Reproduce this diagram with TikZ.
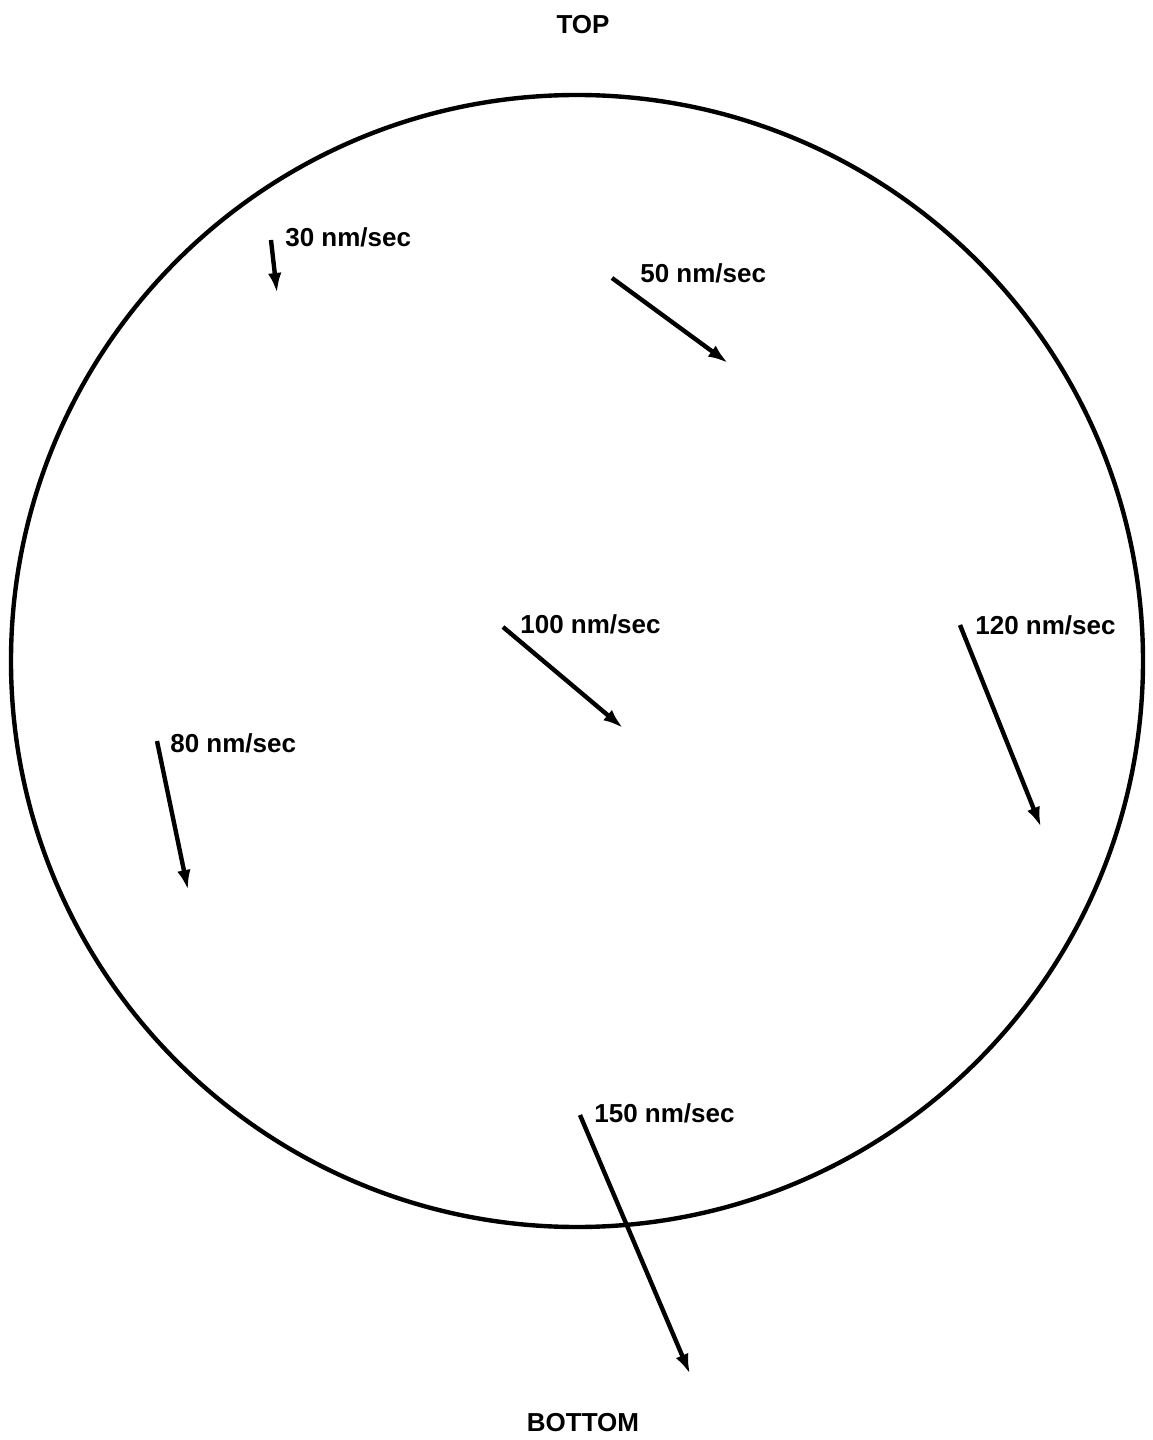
\documentclass[tikz,border=0pt]{standalone}
\usepackage{fontspec}
\setmainfont{Liberation Sans}
\usetikzlibrary{arrows.meta}

\begin{document}
\begin{tikzpicture}[scale=1.0,>={Latex[length=4mm,width=2.7mm]},
    vel/.style={line width=2.5pt,->},
    lab/.style={inner sep=0pt,font=\bfseries\fontsize{14.8}{17}\selectfont}]
  \useasboundingbox (-11.54,13.22) rectangle (11.52,-15.58);
  % Wafer outline
  \draw[line width=2.5pt] (0,0) circle (11.32);
  \node[lab] (top) at (0.12,12.72) {TOP};
  \node[lab] (bottom) at (0.12,-15.24) {BOTTOM};
  % Velocity vectors with labels
  \foreach \nm/\s/\e/\l/\v in {
      a/{-6.12,8.42}/{-6.00,7.36}/{-5.84,8.48}/30,
      b/{0.70,7.66}/{3.02,5.96}/{1.26,7.76}/50,
      c/{-1.48,0.68}/{0.92,-1.34}/{-1.14,0.74}/100,
      d/{7.66,0.72}/{9.28,-3.32}/{7.96,0.72}/120,
      e/{-8.40,-1.60}/{-7.78,-4.58}/{-8.14,-1.64}/80,
      f/{0.06,-9.08}/{2.26,-14.26}/{0.34,-9.04}/150}{
    \coordinate (\nm0) at (\s);
    \coordinate (\nm1) at (\e);
    \node[lab,anchor=west] (\nm lab) at (\l) {\v\ nm/sec};
    \draw[vel] (\nm0) -- (\nm1);
  }
\end{tikzpicture}
\end{document}
